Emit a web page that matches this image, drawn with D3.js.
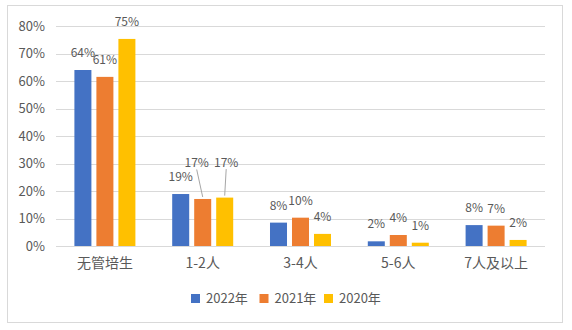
<!DOCTYPE html>
<html><head><meta charset="utf-8">
<script src="https://cdn.jsdelivr.net/npm/d3@7"></script>
<style>
html,body{margin:0;padding:0;background:#fff;}
svg{display:block;font-family:"Noto Sans CJK SC","Noto Sans",sans-serif;}
</style></head>
<body><svg id="c" width="572" height="330"></svg>
<script>
const categories = ["无管培生","1-2人","3-4人","5-6人","7人及以上"];
const seriesNames = ["2022年","2021年","2020年"];
const values2022 = [64, 18.9, 8.5, 1.7, 7.6];
const values2021 = [61.5, 17.1, 10.3, 4.0, 7.4];
const values2020 = [75.3, 17.6, 4.4, 1.2, 2.2];
const labels2022 = ["64%","19%","8%","2%","8%"];
const labels2021 = ["61%","17%","10%","4%","7%"];
const labels2020 = ["75%","17%","4%","1%","2%"];
const yTicks = [0,10,20,30,40,50,60,70,80];
const colors = ["#4472C4","#ED7D31","#FFC000"];
// label offsets (dx, dy) for labels moved with leader lines
const labelOffsets = {"1-1":[-6,-18.5],"1-2":[1.5,-17.5]};

(function(){
const svg = d3.select("#c");
svg.append("rect").attr("x",7.5).attr("y",5.5).attr("width",555).attr("height",317)
  .attr("fill","#fff").attr("stroke","#D9D9D9").attr("stroke-width",1);

const pL=56,pR=545,pT=26,pB=246;
const x0 = d3.scaleBand().domain(categories).range([pL,pR]).padding(0);
const x1 = d3.scaleBand().domain(seriesNames).range([-33,33]).paddingInner(0.227).paddingOuter(0.1135);
const y = d3.scaleLinear().domain([0,80]).range([pB,pT]);

svg.append("g").selectAll("line").data(yTicks).join("line")
  .attr("x1",pL).attr("x2",pR)
  .attr("y1",d=>Math.round(y(d))+0.5).attr("y2",d=>Math.round(y(d))+0.5)
  .attr("stroke","#D9D9D9").attr("stroke-width",1);

const yAxis = d3.axisLeft(y).tickValues(yTicks).tickFormat(d=>d+"%").tickSize(0).tickPadding(0);
const ga = svg.append("g").attr("transform",`translate(45,0)`).call(yAxis);
ga.select(".domain").remove();
ga.selectAll("text").attr("font-size",13).attr("fill","#595959").attr("font-family","\"Noto Sans CJK SC\",sans-serif");

const xAxis = d3.axisBottom(x0).tickSize(0).tickPadding(0);
const gx = svg.append("g").attr("transform",`translate(0,${pB+12})`).call(xAxis);
gx.select(".domain").remove();
gx.selectAll("text").attr("font-size",14).attr("fill","#595959").attr("font-family","\"Noto Sans CJK SC\",sans-serif");

const series = [values2022, values2021, values2020];
const labels = [labels2022, labels2021, labels2020];
const data = [];
series.forEach((vals,si)=>vals.forEach((v,ci)=>data.push({si,ci,v,label:labels[si][ci]})));

svg.append("g").selectAll("rect").data(data).join("rect")
  .attr("x",d=>x0(categories[d.ci])+x0.bandwidth()/2+x1(seriesNames[d.si]))
  .attr("y",d=>y(d.v))
  .attr("width",x1.bandwidth())
  .attr("height",d=>pB-y(d.v))
  .attr("fill",d=>colors[d.si]);

const lg = svg.append("g");
data.forEach(d=>{
  const cx = x0(categories[d.ci])+x0.bandwidth()/2+x1(seriesNames[d.si])+x1.bandwidth()/2;
  const off = labelOffsets[d.ci+"-"+d.si];
  const dx = off?off[0]:0, dy = off?off[1]:0;
  const by = y(d.v)-13+dy;
  if(off){
    lg.append("line").attr("x1",cx+dx).attr("y1",by+2).attr("x2",cx).attr("y2",y(d.v)-2)
      .attr("stroke","#A6A6A6").attr("stroke-width",1);
  }
  lg.append("text").attr("x",cx+dx).attr("y",by).attr("text-anchor","middle")
    .attr("font-size",12).attr("fill","#595959").text(d.label);
});

const legX = [191,259.5,324];
const leg = svg.append("g");
seriesNames.forEach((s,i)=>{
  leg.append("rect").attr("x",legX[i]).attr("y",294).attr("width",9).attr("height",9).attr("fill",colors[i]);
  leg.append("text").attr("x",legX[i]+15).attr("y",303).attr("font-size",13).attr("fill","#595959").text(s);
});
})();
</script></body></html>
